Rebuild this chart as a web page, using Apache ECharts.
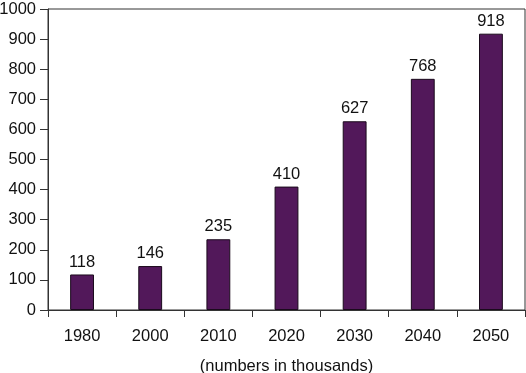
<!DOCTYPE html>
<html>
<head>
<meta charset="utf-8">
<script src="https://cdn.jsdelivr.net/npm/echarts@6/dist/echarts.min.js"></script>
<style>html,body{margin:0;padding:0;background:#fff;}#c{width:526px;height:373px;}</style>
</head>
<body>
<div id="c"></div>
<script>
var categories = ['1980', '2000', '2010', '2020', '2030', '2040', '2050'];
var values = [118, 146, 235, 410, 627, 768, 918];
var yTicks = [0, 100, 200, 300, 400, 500, 600, 700, 800, 900, 1000];
var xTitle = '(numbers in thousands)';

var chart = echarts.init(document.getElementById('c'), null, {renderer: 'canvas'});
var font = '"Liberation Sans", Arial, Helvetica, sans-serif';
var fs = 16.5;
chart.setOption({
  animation: false,
  grid: {left: 48, right: 1, top: 9, bottom: 63, show: true, borderColor: '#333', borderWidth: 1,
         containLabel: false, outerBoundsMode: 'none'},
  xAxis: {
    type: 'category',
    data: categories,
    name: xTitle,
    nameLocation: 'middle',
    nameGap: 48,
    nameTextStyle: {fontSize: fs, color: '#111', fontFamily: font},
    axisLine: {lineStyle: {color: '#333', width: 1}},
    axisTick: {show: true, length: 7, lineStyle: {color: '#333'}},
    axisLabel: {fontSize: fs, color: '#111', fontFamily: font, margin: 18}
  },
  yAxis: {
    type: 'value',
    min: yTicks[0],
    max: yTicks[yTicks.length - 1],
    interval: 100,
    splitLine: {show: false},
    axisLine: {show: true, lineStyle: {color: '#333', width: 1}},
    axisTick: {show: true, length: 8, lineStyle: {color: '#333'}},
    axisLabel: {fontSize: fs, color: '#111', fontFamily: font, margin: 12, formatter: function (v) { return String(v); }}
  },
  series: [{
    type: 'bar',
    data: values,
    barWidth: '35%',
    itemStyle: {color: '#52185A', borderColor: '#1a0a1c', borderWidth: 1},
    label: {show: true, position: 'top', distance: 4, fontSize: fs, color: '#111', fontFamily: font}
  }]
});
</script>
</body>
</html>
